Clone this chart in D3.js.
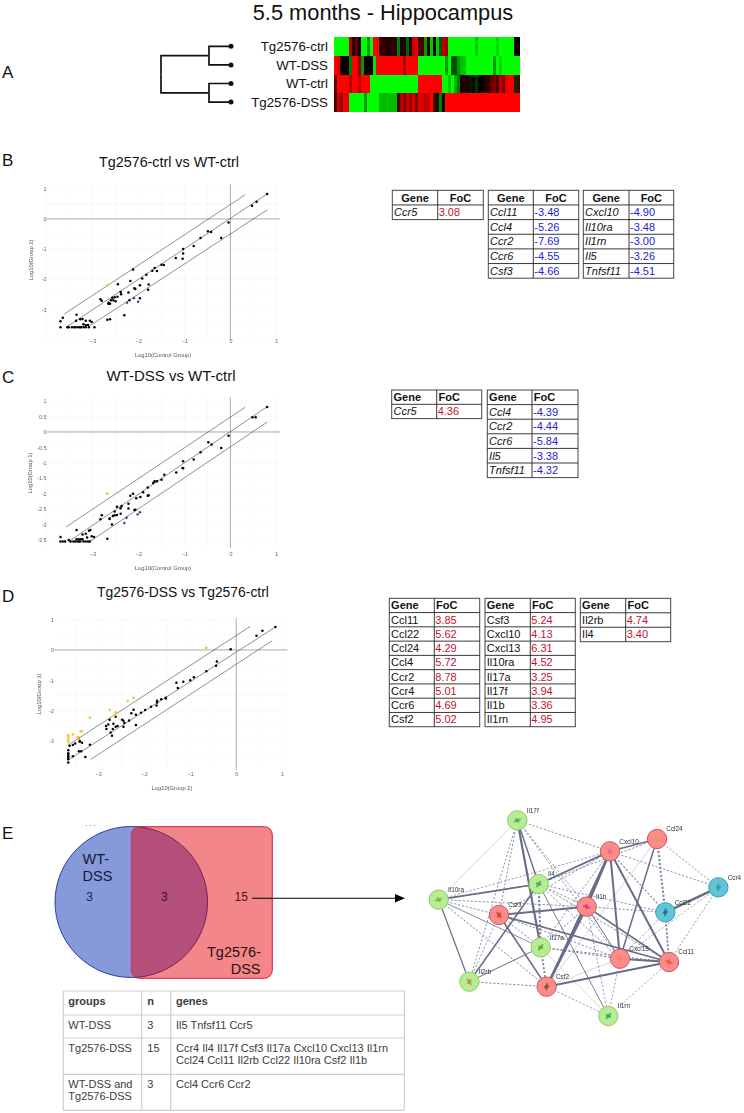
<!DOCTYPE html>
<html><head><meta charset="utf-8">
<script src="https://cdn.jsdelivr.net/npm/d3@7"></script>
<style>html,body{margin:0;padding:0;background:#fff}svg{display:block}text{font-family:"Liberation Sans",Arial,sans-serif}</style>
</head><body><svg id="c" width="744" height="1113"></svg>
<script>
// ---------- Panel A ----------
const heatGroups = ["Tg2576-ctrl","WT-DSS","WT-ctrl","Tg2576-DSS"];
const heatCtrl = [-1,-1,-1,-1,-1,.7,.15,.4,.05,-1,-1,-.6,-1,1,1,.2,.2,.15,.15,.2,.2,-.5,.1,.15,-.4,.1,.8,.9,.3,.25,-.6,.1,-.8,0,-.8,-.3,.7,.6,-1,-1,-1,-1,-1,-1,-1,-1,-1,-.8,-1,-1,-1,-1,-1,-1,-.85,-1,-1,-1,-1,-1,.02,.02];
const heatWtDss = [1,.9,.1,0,.05,-.5,1,1,.6,-.6,0,.02,0,-.9,1,1,1,1,1,1,1,1,1,.7,1,1,1,1,-1,-1,-1,-1,-1,-1,-1,-1,-1,-.6,-1,-.3,-.35,-.6,-.75,-.8,-1,-1,-1,-1,-1,-1,-1,-1,-1,-.6,-1,-.85,-1,-1,-1,-1,-1,-1];
const heatWtCtrl = [.4,1,1,1,1,.75,1,1,.7,1,1,1,-1,-1,-1,-1,-1,-1,-1,-1,-1,-1,-1,-1,-1,-1,-1,-1,1,1,1,1,1,1,1,1,-1,-1,-.8,-1,-.7,-.5,.1,.15,.1,-.1,-.05,-.2,0,.05,.15,.2,.4,.5,.3,.75,.5,.9,1,.95,-.2,.3];
const heatTgDss = [.3,.8,.6,.95,.9,-1,-1,-1,-1,-1,-.6,-1,-1,-1,-1,-.75,-.75,-.75,-.75,-.75,-.75,.3,.7,.5,.8,.6,.85,.5,.9,.85,.75,.8,1,.3,-.1,-.5,0,1,1,1,1,1,1,1,1,1,1,1,1,1,1,1,1,1,1,1,1,1,1,1,1,1];
const heatRows = [heatCtrl,heatWtDss,heatWtCtrl,heatTgDss];

// ---------- Panels B, C, D : scatter values (log10) ----------
const bX = [.8,.57,.47,-.04,-.2,-.42,-.49,-.65,-.8,-1.03,-1.03,-1.04,-1.19,-1.45,-1.5,-1.6,-1.65,-1.7,-1.83,-1.92,-1.78,-1.79,-1.97,-2.09,-2.07,-2.12,-2.18,-2.22,-2.45,-2.39,-2.38,-2.46,-2.52,-2.57,-2.55,-2.6,-2.5,-2.65,-2.62,-2.66,-2.83,-2.8,-1.97,-2.2,-2.31,-2.62,-2.68,-3.7,-3.65,-3.35,-3.36,-3.27,-3.22,-3.15,-3.06,-3.02,-3.15,-3.2,-3.1,-2.96,-3.7,-3.55,-3.52,-3.45,-3.4,-3.37,-3.32,-3.28,-3.25,-3.2,-3.15,-3.08];
const bY = [.83,.57,.44,-.12,-.63,-.43,-.41,-.63,-.9,-1,-1.15,-1.32,-1.3,-1.53,-1.52,-1.73,-1.63,-1.72,-1.85,-1.98,-2.18,-2.35,-2.2,-2.3,-2.33,-1.68,-2.06,-2.44,-2.17,-2.43,-2.5,-2.58,-2.6,-2.62,-2.7,-2.7,-2.73,-2.78,-2.82,-2.82,-2.67,-2.72,-2.63,-2.7,-3.2,-3.33,-3.35,-3.4,-3.28,-3.18,-3.38,-3.33,-3.32,-3.38,-3.38,-3.42,-3.53,-3.5,-3.52,-3.6,-3.6,-3.6,-3.6,-3.6,-3.6,-3.6,-3.6,-3.6,-3.6,-3.6,-3.6,-3.6];
const bBlueX = [-2.1,-2.01,-2.25], bBlueY = [-2.63,-2.75,-2.78];
const bYellowX = [-2.68], bYellowY = [-2.2];

const cX = [.8,.55,.48,-.04,-.2,-.41,-.48,-.65,-.8,-1.03,-1.04,-1.03,-1.18,-1.44,-1.5,-1.6,-1.65,-1.68,-1.8,-1.78,-1.8,-1.9,-1.96,-2.05,-2.12,-2.18,-2.22,-2.22,-2.37,-2.39,-2.47,-2.52,-2.39,-2.47,-2.52,-2.56,-2.63,-2.63,-2.58,-2.8,-2.83,-2.09,-2.07,-2.68,-3.7,-3.35,-3.22,-3.15,-3.08,-3.05,-3.02,-2.97,-3.12,-3.22,-3.35,-3.3,-3.25,-3.7,-3.65,-3.6,-3.52,-3.48,-3.42,-3.38,-3.33,-3.3,-3.27,-3.2,-3.15,-3.1,-3.06];
const cY = [.81,.48,.48,-.12,-.52,-.41,-.33,-.66,-.89,-.95,-1.17,-1.18,-1.31,-1.39,-1.55,-1.6,-1.6,-1.65,-1.8,-2.05,-2.07,-1.95,-2.11,-2.15,-2,-2.07,-2.33,-2.48,-2.4,-2.47,-2.42,-2.58,-2.65,-2.69,-2.7,-2.72,-2.8,-2.82,-3,-2.7,-2.83,-2.53,-2.52,-3.46,-3.4,-3.18,-3.32,-3.3,-3.2,-3.18,-3.38,-3.4,-3.42,-3.48,-3.48,-3.48,-3.48,-3.55,-3.55,-3.55,-3.5,-3.55,-3.55,-3.55,-3.55,-3.55,-3.55,-3.55,-3.55,-3.55,-3.55];
const cBlueX = [-1.97,-2.02,-2.26,-2.31], cBlueY = [-2.6,-2.67,-2.78,-2.95];
const cYellowX = [-2.68], cYellowY = [-2];

const dX = [.85,.57,.44,-.12,-.42,-.44,-.65,-.92,-1,-1.15,-1.3,-1.27,-1.53,-1.53,-1.63,-1.72,-1.72,-1.73,-1.85,-1.98,-2.07,-2.18,-2.23,-2.28,-2.33,-2.18,-2.45,-2.48,-2.43,-2.45,-2.62,-2.62,-2.58,-2.67,-2.75,-2.78,-2.83,-2.82,-2.73,-2.68,-2.7,-3.18,-3.35,-3.4,-3.42,-3.4,-3.42,-3.37,-3.28,-3.55,-3.62,-3.55,-3.5,-3.65,-3.65,-3.65,-3.65,-3.65,-3.65,-3.65];
const dY = [.75,.63,.47,.02,-.38,-.52,-.7,-.9,-1,-1.05,-1.08,-1.25,-1.57,-1.6,-1.62,-1.67,-1.73,-1.83,-1.87,-1.98,-2.07,-2.13,-1.97,-2.08,-2.32,-2.47,-2.33,-2.3,-2.4,-2.53,-2.2,-2.53,-2.5,-2.43,-2.3,-2.45,-2.5,-2.6,-2.72,-2.6,-2.82,-3.12,-3.05,-3,-2.9,-3.02,-3.33,-3.33,-3.52,-3.5,-3.15,-3.13,-3.08,-3.3,-3.4,-3.5,-3.55,-3.7,-3.6,-3.45];
const dYellowX = [-.65,-2.23,-2.36,-2.62,-2.75,-2.65,-3.18,-3.35,-3.38,-3.42,-3.45,-3.55,-3.65,-3.65,-3.65,-3.65,-3.65];
const dYellowY = [.07,-1.58,-1.68,-2.05,-1.97,-2.15,-2.23,-2.67,-2.68,-2.88,-2.87,-2.78,-2.8,-2.87,-2.95,-3,-3.03];

const ticksWhole = [-3,-2,-1,0,1];
const ticksHalf = [-3.5,-3,-2.5,-2,-1.5,-1,-.5,0,.5,1];

// ---------- FoC tables ----------
const b1Genes=["Ccr5"], b1FoC=[3.08];
const b2Genes=["Ccl11","Ccl4","Ccr2","Ccr6","Csf3"], b2FoC=[-3.48,-5.26,-7.69,-4.55,-4.66];
const b3Genes=["Cxcl10","Il10ra","Il1rn","Il5","Tnfsf11"], b3FoC=[-4.90,-3.48,-3.00,-3.26,-4.51];
const c1Genes=["Ccr5"], c1FoC=[4.36];
const c2Genes=["Ccl4","Ccr2","Ccr6","Il5","Tnfsf11"], c2FoC=[-4.39,-4.44,-5.84,-3.38,-4.32];
const d1Genes=["Ccl11","Ccl22","Ccl24","Ccl4","Ccr2","Ccr4","Ccr6","Csf2"], d1FoC=[3.85,5.62,4.29,5.72,8.78,5.01,4.69,5.02];
const d2Genes=["Csf3","Cxcl10","Cxcl13","Il10ra","Il17a","Il17f","Il1b","Il1rn"], d2FoC=[5.24,4.13,6.31,4.52,3.25,3.94,3.36,4.95];
const d3Genes=["Il2rb","Il4"], d3FoC=[4.74,3.40];

// ---------- Panel E ----------
const vennCounts=[3,3,15];
const geneHeader=["groups","n","genes"];
const geneGroups=[["WT-DSS"],["Tg2576-DSS"],["WT-DSS and","Tg2576-DSS"]];
const geneN=[3,15,3];
const geneLists=[["Il5 Tnfsf11 Ccr5"],["Ccr4 Il4 Il17f Csf3 Il17a Cxcl10 Cxcl13 Il1rn","Ccl24 Ccl11 Il2rb Ccl22 Il10ra Csf2 Il1b"],["Ccl4 Ccr6 Ccr2"]];

const netNames=["Il17f","Ccl24","Cxcl10","Ccr4","Il4","Il10ra","Il1b","Csf3","Ccl22","Il17a","Cxcl13","Ccl11","Il2rb","Csf2","Il1rn"];
const netU=[322,741,600,925,386,86,530,267,766,392,630,777,178,410,595];
const netV=[76,132,169,277,267,314,335,360,352,457,491,501,560,575,663];
const netClass=["g","r","r","t","g","g","r","r","t","g","r","r","g","r","g"];
const netGlyph=["#3fae5a","#d9a050","#ee6688","#2f9d9a","#33a866","#7fae40","#e0308a","#b54a20","#206f70","#6aa030","#ff7a7a","#ea5a30","#b08a40","#7a5020","#30a860"];
const thickEdges=[["Il17f","Il17a",2.2],["Il17f","Il4",1.4],["Il4","Il10ra",1.7],["Il4","Cxcl10",1.8],["Il4","Il2rb",1.6],["Csf3","Il1b",2],["Csf3","Csf2",1.6],["Csf3","Ccl11",1.7],["Il1b","Csf2",2.6],["Il1b","Cxcl10",2.6],["Il1b","Cxcl13",1],["Il1b","Ccl11",1.6],["Cxcl10","Cxcl13",2],["Cxcl10","Ccl11",2],["Cxcl10","Ccl24",1.5],["Ccl24","Cxcl13",1.5],["Ccl22","Ccr4",2.5],["Cxcl13","Ccl11",2],["Csf2","Ccl11",2],["Csf2","Cxcl10",1.8],["Il10ra","Il2rb",1.2],["Il2rb","Il17a",1],["Il4","Il1rn",.9],["Il10ra","Il17a",.8]];
const lightEdges=[["Il10ra","Il17f"],["Csf2","Cxcl13"],["Csf2","Ccl24"],["Il17a","Il1rn"]];
const dashEdges=[["Il4","Il17a",2],["Ccl24","Ccl22",2],["Ccl22","Ccl11",1.8],["Il17a","Csf2",1.8],["Il17f","Cxcl10",.9],["Il17f","Il1b",.9],["Il17f","Cxcl13",.9],["Il17f","Il2rb",.9],["Il17f","Csf3",.9],["Il10ra","Il1b",.9],["Il10ra","Csf3",.9],["Il10ra","Csf2",1],["Il2rb","Csf2",1],["Il2rb","Csf3",.8],["Il4","Ccl22",.9],["Il4","Ccl24",1],["Il4","Il1b",.9],["Il4","Cxcl13",.9],["Il4","Ccl11",.9],["Csf3","Il17a",.9],["Csf3","Cxcl13",.9],["Cxcl10","Ccr4",.9],["Ccl24","Ccr4",.8],["Ccr4","Ccl11",.8],["Ccr4","Cxcl13",.7],["Il1b","Ccl22",.9],["Il1b","Il17a",.9],["Il1b","Il1rn",.8],["Il17a","Cxcl13",1],["Il17a","Ccl11",1],["Csf2","Il1rn",.8],["Il1rn","Ccl11",.7],["Il1rn","Cxcl13",.8],["Cxcl10","Ccl22",1.1],["Cxcl13","Ccl22",.8],["Il10ra","Il4",.8],["Il10ra","Cxcl10",.8],["Csf3","Cxcl10",.9],["Il17a","Cxcl10",.9]];

// ======================= drawing =======================
const svg=d3.select("#c");
const defs=svg.append("defs");
defs.append("filter").attr("id","soft").attr("x","-5%").attr("y","-5%").attr("width","110%").attr("height","110%")
  .append("feGaussianBlur").attr("stdDeviation",.3);
const ink="#111";
const label=(x,y,t,o={})=>svg.append("text").attr("x",x).attr("y",y).text(t)
  .attr("font-size",o.s||12).attr("fill",o.f||ink).attr("text-anchor",o.a||"start")
  .attr("font-weight",o.w||null).attr("font-style",o.i||null);

label(383,19.7,"5.5 months - Hippocampus",{s:21.8,a:"middle"});
[["A",78],["B",166],["C",383],["D",602],["E",839]].forEach(d=>label(2,d[1],d[0],{s:17}));

// heatmap
const hx=d3.scaleBand().domain(d3.range(heatCtrl.length)).range([334,520]);
const hy=d3.scaleBand().domain(heatGroups).range([37.3,111.7]);
const hc=d3.scaleLinear().domain([-1,0,1]).range(["#00ff00","#000000","#ff0000"]);
heatRows.forEach((row,i)=>svg.append("g").selectAll("rect").data(row).join("rect")
  .attr("x",(d,j)=>hx(j)).attr("y",hy(heatGroups[i])).attr("width",hx.bandwidth()+.3).attr("height",hy.bandwidth()+.2)
  .attr("fill",d=>hc(d)).attr("shape-rendering","crispEdges"));
const rowY=g=>hy(g)+hy.bandwidth()/2-.3;
heatGroups.forEach(g=>label(328,rowY(g)+4.6,g,{s:13.3,a:"end"}));

// dendrogram
const tree=d3.hierarchy({children:[{children:[{n:heatGroups[0]},{n:heatGroups[1]}]},{children:[{n:heatGroups[2]},{n:heatGroups[3]}]}]});
const depthX=d3.scaleLinear().domain([0,1,2]).range([161,209,231]);
tree.eachAfter(n=>{n.py=n.children?d3.mean(n.children,c=>c.py):rowY(n.data.n)});
const tg=svg.append("g");
tree.links().forEach(l=>tg.append("path").attr("fill","none").attr("stroke","#111").attr("stroke-width",1.7)
  .attr("d",`M${depthX(l.source.depth)},${l.source.py}V${l.target.py}H${depthX(l.target.depth)}`));
tree.leaves().forEach(n=>tg.append("circle").attr("cx",depthX(2)).attr("cy",n.py).attr("r",2.5).attr("fill","#111"));

// scatter
function scatter(o){
  const x=d3.scaleLinear().domain(o.xd).range([o.l,o.r]);
  const y=d3.scaleLinear().domain(o.yd).range([o.b,o.t]);
  const g=svg.append("g").attr("filter","url(#soft)");
  g.append("g").selectAll("line").data(x.ticks(10)).join("line").attr("x1",x).attr("x2",x).attr("y1",o.t).attr("y2",o.b).attr("stroke","#f3f3f3").attr("stroke-width",.5);
  g.append("g").selectAll("line").data(y.ticks(10)).join("line").attr("y1",y).attr("y2",y).attr("x1",o.l).attr("x2",o.r).attr("stroke","#f3f3f3").attr("stroke-width",.5);
  g.append("line").attr("x1",o.l).attr("x2",o.r).attr("y1",y(0)).attr("y2",y(0)).attr("stroke","#8c8c8c").attr("stroke-width",.7);
  g.append("line").attr("x1",x(0)).attr("x2",x(0)).attr("y1",o.t).attr("y2",o.b).attr("stroke","#8c8c8c").attr("stroke-width",.7);
  const line=d3.line().x(d=>x(d[0])).y(d=>y(d[1]));
  o.guides.forEach(s=>g.append("path").attr("d",line(s)).attr("fill","none").attr("stroke","#444").attr("stroke-width",.6));
  const ax=d3.axisBottom(x).tickValues(ticksWhole).tickSize(0).tickFormat(d3.format("d"));
  const ay=d3.axisLeft(y).tickValues(o.yt).tickSize(0).tickFormat(d=>d);
  const gx=g.append("g").attr("transform",`translate(0,${o.xty})`).call(ax);
  const gy=g.append("g").attr("transform",`translate(${o.ytx},0)`).call(ay);
  [gx,gy].forEach(a=>{a.select(".domain").remove();a.selectAll("text").attr("font-size",5.4).attr("fill","#666").attr("font-family","Liberation Sans");});
  gx.selectAll("text").attr("dy",0).attr("y",0);
  gy.selectAll("text").attr("x",0);
  const pts=(xs,ys,c,r)=>g.append("g").selectAll("circle").data(xs).join("circle")
    .attr("cx",d=>x(d)).attr("cy",(d,i)=>y(ys[i])).attr("r",r).attr("fill",c);
  pts(o.px,o.py,"#000",1.25);
  if(o.blueX) pts(o.blueX,o.blueY,"#2a3d8f",1.2);
  pts(o.yelX,o.yelY,"#f8c537",1.35);
  g.append("text").attr("x",o.xtx).attr("y",o.xtitleY).attr("text-anchor","middle").attr("font-size",5.8).attr("fill","#555").text(o.xt);
  g.append("text").attr("transform",`translate(${o.ytitleX},${o.ytitleY}) rotate(-90)`).attr("text-anchor","middle").attr("font-size",5.8).attr("fill","#555").text(o.yl);
  label(o.tx,o.ty,o.title,{s:o.ts,a:"middle"});
}
const up=[[-3.62,-3.16],[.32,.8]], mid=[[-3.58,-3.6],[.8,.83]], lo=[[-3.06,-3.55],[.8,.3]];
scatter({title:"Tg2576-ctrl vs WT-ctrl",ts:14.3,tx:169,ty:167,l:46.7,r:280,t:184.3,b:340,xd:[-4,1.08],yd:[-4.02,1.15],yt:ticksWhole,xty:342.5,ytx:46.5,
  px:bX,py:bY,blueX:bBlueX,blueY:bBlueY,yelX:bYellowX,yelY:bYellowY,guides:[up,mid,lo],xt:"Log10(Control Group)",xtx:163,xtitleY:357,yl:"Log10(Group 2)",ytitleX:33,ytitleY:260});
scatter({title:"WT-DSS vs WT-ctrl",ts:15,tx:171,ty:381,l:46.7,r:280,t:397.7,b:548,xd:[-4,1.08],yd:[-3.76,1.11],yt:ticksHalf,xty:555.5,ytx:46.5,
  px:cX,py:cY,blueX:cBlueX,blueY:cBlueY,yelX:cYellowX,yelY:cYellowY,guides:[[[-3.58,-3.08],[.32,.8]],[[-3.52,-3.55],[.8,.82]],[[-3.08,-3.57],[.8,.32]]],xt:"Log10(Control Group)",xtx:163,xtitleY:570,yl:"Log10(Group 1)",ytitleX:32,ytitleY:473});
scatter({title:"Tg2576-DSS vs Tg2576-ctrl",ts:13.9,tx:183,ty:597,l:54,r:287.3,t:618.3,b:770,xd:[-3.96,1.11],yd:[-3.95,1.04],yt:ticksWhole,xty:776,ytx:54,
  px:dX,py:dY,yelX:dYellowX,yelY:dYellowY,guides:[[[-3.65,-3.13],[.3,.77]],[[-3.63,-3.6],[.87,.77]],[[-3.16,-3.6],[.78,.3]]],xt:"Log10(Group 2)",xtx:172,xtitleY:790,yl:"Log10(Group 3)",ytitleX:41,ytitleY:694});

// FoC tables
function focTable(genes,foc,left,split,right,top,rh,o={}){
  const g=svg.append("g");
  const rows=d3.range(genes.length+1);
  const bottom=top+rh*rows.length;
  const yy=d3.scaleLinear().domain([0,rows.length]).range([top,bottom]);
  g.append("rect").attr("x",left).attr("y",top).attr("width",right-left).attr("height",bottom-top).attr("fill","none").attr("stroke","#444").attr("stroke-width",1);
  g.append("line").attr("x1",split).attr("x2",split).attr("y1",top).attr("y2",bottom).attr("stroke","#222").attr("stroke-width",.9);
  rows.slice(1).forEach(i=>g.append("line").attr("x1",left).attr("x2",right).attr("y1",yy(i)).attr("y2",yy(i)).attr("stroke","#222").attr("stroke-width",.9));
  const base=i=>yy(i)+rh/2+3.9;
  if(o.center){
    label((left+split)/2,base(0),"Gene",{s:11,w:"bold",a:"middle"});
    label((split+right)/2,base(0),"FoC",{s:11,w:"bold",a:"middle"});
  }else{
    label(left+1.8,base(0),"Gene",{s:11,w:"bold"});
    label(split+1.8,base(0),"FoC",{s:11,w:"bold"});
  }
  genes.forEach((s,i)=>{
    label(left+1.8,base(i+1),s,{s:11,i:o.plain?null:"italic"});
    label(split+1,base(i+1),foc[i].toFixed(2),{s:11,f:foc[i]<0?"#2323d0":"#c41230"});
  });
}
focTable(b1Genes,b1FoC,392.3,437.7,483.3,190.3,14.65,{center:1});
focTable(b2Genes,b2FoC,488.3,533.3,578.7,190.3,14.65,{center:1});
focTable(b3Genes,b3FoC,583.3,629,673.7,190.3,14.65,{center:1});
focTable(c1Genes,c1FoC,391.7,436.7,481.7,390,14.3);
focTable(c2Genes,c2FoC,487.3,532,578,390,14.6);
focTable(d1Genes,d1FoC,389.3,434.3,479.7,598.3,14.27,{plain:1});
focTable(d2Genes,d2FoC,485,530.3,575.3,598.3,14.27,{plain:1});
focTable(d3Genes,d3FoC,580.3,625.7,670.7,598.3,14.47,{plain:1});

// Venn
const vx=131.3,vy=902,vrx=76.3,vry=75.5,rx0=131.3,rx1=272.3,ry0=826.7,ry1=978.3;
defs.append("clipPath").attr("id","rc").append("rect").attr("x",rx0).attr("y",ry0).attr("width",rx1-rx0).attr("height",ry1-ry0).attr("rx",8);
svg.append("ellipse").attr("cx",vx).attr("cy",vy).attr("rx",vrx).attr("ry",vry).attr("fill","#8699d9").attr("stroke","#1c2f9e").attr("stroke-width",.9);
svg.append("rect").attr("x",rx0).attr("y",ry0).attr("width",rx1-rx0).attr("height",ry1-ry0).attr("rx",8).attr("fill","#f38688").attr("stroke","#d31c40").attr("stroke-width",1);
svg.append("ellipse").attr("cx",vx).attr("cy",vy).attr("rx",vrx).attr("ry",vry).attr("fill","#b34f78").attr("stroke","#6a1c60").attr("stroke-width",.9).attr("clip-path","url(#rc)");
label(82.5,863.5,"WT-",{s:14.5,f:"#141a38"});label(82.5,881,"DSS",{s:14.5,f:"#141a38"});
label(89.7,901,vennCounts[0],{s:12,a:"middle",f:"#1a2450"});
label(164.3,901,vennCounts[1],{s:12,a:"middle",f:"#3a1030"});
label(241.3,901,vennCounts[2],{s:12,a:"middle",f:"#4a1518"});
label(261,957,"Tg2576-",{s:14.5,a:"end",f:"#2a1012"});label(260.5,974,"DSS",{s:14.5,a:"end",f:"#2a1012"});
label(85,828,"· · ·",{s:7});
svg.append("line").attr("x1",252).attr("x2",396).attr("y1",898.3).attr("y2",898.3).attr("stroke","#000").attr("stroke-width",1.1);
svg.append("path").attr("d","M395,894L405,898.3L395,902.6Z").attr("fill","#000");

// gene table
const gridX=[63.3,141.7,170.7,404.3], gridY=[991,1015,1038,1074.3,1110.3];
const gt=svg.append("g").attr("stroke","#cfcfcf").attr("stroke-width",1.2);
gridX.forEach(x=>gt.append("line").attr("x1",x).attr("x2",x).attr("y1",gridY[0]).attr("y2",gridY[4]));
gridY.forEach(y=>gt.append("line").attr("x1",gridX[0]).attr("x2",gridX[3]).attr("y1",y).attr("y2",y));
const tc="#3c3c3c";
[68.3,147.3,176].forEach((x,i)=>label(x,1005.3,geneHeader[i],{s:11,w:"bold",f:tc}));
geneGroups.forEach((lines,i)=>{
  const top=gridY[i+1]+13.5;
  lines.forEach((s,k)=>label(68.3,top+k*12.5,s,{s:11,f:tc}));
  label(147.3,top,geneN[i],{s:11,f:tc});
  geneLists[i].forEach((s,k)=>label(176,top+k*12,s,{s:11,f:tc}));
});

// network
const nx=d3.scaleLinear().domain([0,334]).range([410,744]);
const ny=d3.scaleLinear().domain([0,245]).range([795,1040]);
const scale3=d3.scaleLinear().domain([0,3]).range([0,1]);
const idx=Object.fromEntries(netNames.map((n,i)=>[n,i]));
const pos=n=>[nx(scale3(netU[idx[n]])),ny(scale3(netV[idx[n]]))];
const ng=svg.append("g").attr("filter","url(#soft)");
const edge=(e,c,w,dash)=>{const a=pos(e[0]),b=pos(e[1]);
  ng.append("line").attr("x1",a[0]).attr("y1",a[1]).attr("x2",b[0]).attr("y2",b[1]).attr("stroke",c).attr("stroke-width",w).attr("stroke-dasharray",dash||null);};
lightEdges.forEach(e=>edge(e,"#c2c5cf",.7));
dashEdges.forEach(e=>edge(e,"#7f85a0",e[2],"2.2,1.8"));
thickEdges.forEach(e=>edge(e,"#666d88",e[2]));
const fillOf={g:"#b8ec92",r:"#ff8a8a",t:"#62c4da"}, strokeOf={g:"#8ccb6a",r:"#c95a60",t:"#3f9fb4"};
netNames.forEach((n,i)=>{
  const p=pos(n);
  ng.append("circle").attr("cx",p[0]).attr("cy",p[1]).attr("r",9.7).attr("fill",fillOf[netClass[i]]).attr("stroke",strokeOf[netClass[i]]).attr("stroke-width",1);
  [-25+i*37,50+i*37].forEach((a,k)=>ng.append("ellipse").attr("cx",p[0]).attr("cy",p[1]).attr("rx",k?3:4).attr("ry",1.3).attr("transform",`rotate(${a},${p[0]},${p[1]})`).attr("fill",netGlyph[i]).attr("opacity",.75));
  ng.append("text").attr("x",p[0]+9.3).attr("y",p[1]-7.8).attr("font-size",6.4).attr("fill","#333").text(n);
});
</script></body></html>
